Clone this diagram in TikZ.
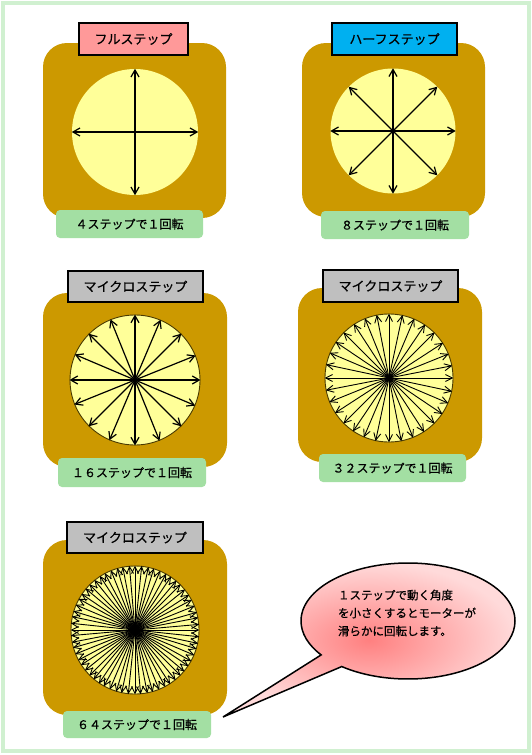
\documentclass[tikz,border=0pt]{standalone}
\usepackage{fontspec}
\setmainfont{Noto Sans CJK JP}[FakeBold=0.6]
\usetikzlibrary{arrows.meta,shapes.callouts}
\definecolor{gold}{HTML}{CC9900}
\definecolor{discyellow}{HTML}{FFFF99}
\definecolor{discedge}{HTML}{4A3A00}
\definecolor{labelgreen}{HTML}{A3DFA3}
\definecolor{framegreen}{HTML}{D0F0D0}
\definecolor{titlepink}{HTML}{FF9999}
\definecolor{titlecyan}{HTML}{00B0F0}
\definecolor{titlegray}{HTML}{BFBFBF}
\definecolor{bubbleinner}{HTML}{FF8080}
\definecolor{bubbleouter}{HTML}{FFDADA}
\begin{document}
\begin{tikzpicture}[x=1pt,y=-1pt,
  motorbox/.style={fill=gold, rounded corners=24pt, inner sep=0},
  disc/.style={circle, fill=discyellow, inner sep=0},
  discline/.style={draw=discedge, line width=0.9pt},
  ray/.style={-{Straight Barb[length=7pt,width=8pt]}, line width=1.2pt},
  finray/.style={-{Straight Barb[length=7pt,width=7pt]}, line width=0.9pt},
  titlebox/.style={draw=black, line width=1.6pt, inner sep=0, font=\fontsize{13}{13}\selectfont},
  steplabel/.style={fill=labelgreen, rounded corners=4pt, inner sep=0, font=\fontsize{12}{12}\selectfont},
  bubbletext/.style={align=left, font=\fontsize{11.5}{18}\selectfont}
]
\useasboundingbox (0,0) rectangle (532,755);
\draw[framegreen, line width=4pt] (3,3) rectangle (529,751);

% Panel 1
\node[motorbox, minimum width=183pt, minimum height=175pt] (m1) at (134.5,130.5) {};
\node[disc, minimum size=126pt] (c1) at (135,132) {};
\foreach \a in {0,90,180,270} \draw[ray] (c1.center) -- (c1.\a);
\node[titlebox, fill=titlepink, minimum width=109pt, minimum height=32pt] (t1) at (133.5,39) {フルステップ};
\node[steplabel, minimum width=147pt, minimum height=28pt] (s1) at (129.5,224) {４ステップで１回転};

% Panel 2
\node[motorbox, minimum width=183pt, minimum height=174pt] (m2) at (393.5,130) {};
\node[disc, minimum size=125pt] (c2) at (393,131) {};
\foreach \i in {0,...,7} \draw[ray] (c2.center) -- (c2.\i*45);
\node[titlebox, fill=titlecyan, minimum width=125pt, minimum height=32pt] (t2) at (394.5,39) {ハーフステップ};
\node[steplabel, minimum width=148pt, minimum height=28pt] (s2) at (395,225) {８ステップで１回転};

% Panel 3
\node[motorbox, minimum width=184pt, minimum height=174pt] (m3) at (135,380) {};
\node[disc, discline, minimum size=130pt] (c3) at (135,380) {};
\foreach \i in {0,...,15} \draw[ray] (c3.center) -- (c3.\i*22.5);
\node[titlebox, fill=titlegray, minimum width=135pt, minimum height=31pt] (t3) at (135.5,286.5) {マイクロステップ};
\node[steplabel, minimum width=148pt, minimum height=29pt] (s3) at (132,472.5) {１６ステップで１回転};

% Panel 4
\node[motorbox, minimum width=184pt, minimum height=174pt] (m4) at (390,375) {};
\node[disc, discline, minimum size=128pt] (c4) at (389,378) {};
\foreach \i in {0,...,31} \draw[finray] (c4.center) -- (c4.\i*11.25);
\node[titlebox, fill=titlegray, minimum width=135pt, minimum height=32pt] (t4) at (390.5,286) {マイクロステップ};
\node[steplabel, minimum width=147pt, minimum height=28pt] (s4) at (392.5,468) {３２ステップで１回転};

% Panel 5
\node[motorbox, minimum width=184pt, minimum height=175pt] (m5) at (135,627.5) {};
\node[disc, discline, minimum size=128pt] (c5) at (135,630) {};
\foreach \i in {0,...,63} \draw[finray] (c5.center) -- (c5.\i*5.625);
\node[titlebox, fill=titlegray, minimum width=136pt, minimum height=31pt] (t5) at (135,537.5) {マイクロステップ};
\node[steplabel, minimum width=148pt, minimum height=27pt] (s5) at (137,724.5) {６４ステップで１回転};

% Callout
\coordinate (tip) at (223,717);
\node[ellipse callout, draw=black, line width=1.5pt, inner color=bubbleinner, outer color=bubbleouter,
  minimum width=214pt, minimum height=116pt, inner sep=0, callout pointer arc=16,
  callout absolute pointer={(tip)}] (bubble) at (408,621) {};
\node[bubbletext] (msg) at (407,613) {１ステップで動く角度\\を小さくするとモーターが\\滑らかに回転します。};
\end{tikzpicture}
\end{document}
